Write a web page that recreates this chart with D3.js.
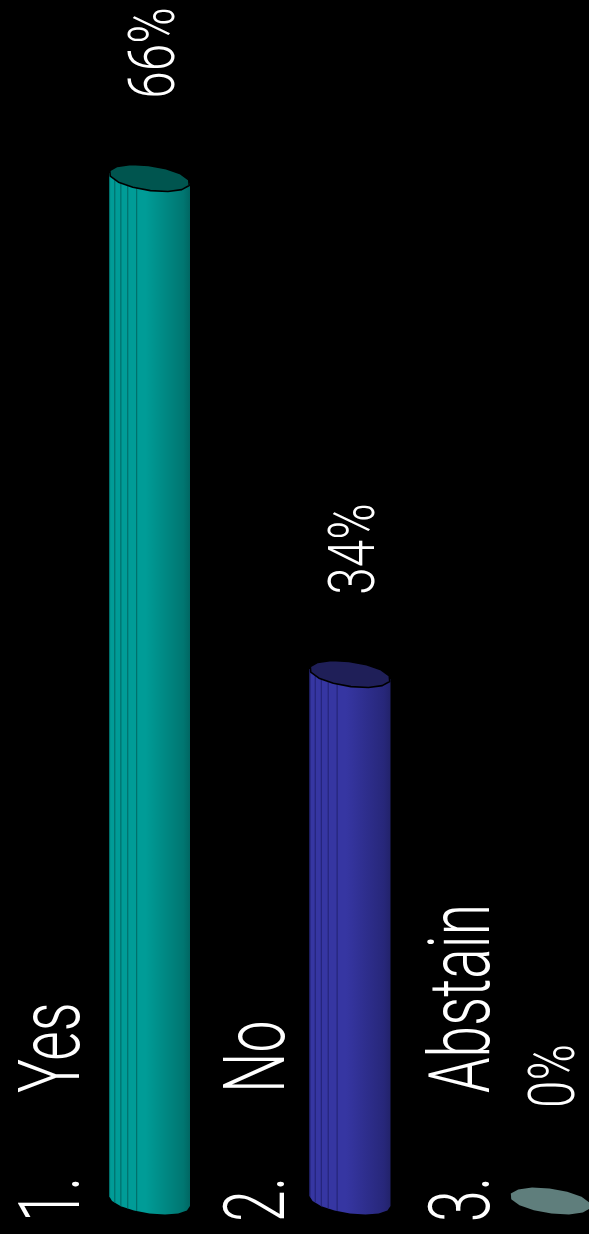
<!DOCTYPE html>
<html>
<head>
<meta charset="utf-8">
<script src="https://cdn.jsdelivr.net/npm/d3@7"></script>
<style>
  html, body { margin: 0; padding: 0; background: #000; }
  svg { display: block; }
  text { font-family: Roboto, "Liberation Sans", Arial, sans-serif; font-weight: 300; fill: #fff; }
</style>
</head>
<body>
<svg id="chart" width="589" height="1234"></svg>
<script>
// Poll results
const categories = ["Yes", "No", "Abstain"];
const itemNumbers = ["1.", "2.", "3."];
const percents = [66, 34, 0];

// Cylinder palettes: body left, body right, stripe, cap
const bodyLight = ["#009c97", "#3636a2", "#5f7e7c"];
const bodyDark = ["#007671", "#27277a", "#4c6664"];
const stripeColor = ["#006f6b", "#25257a", "#4c6664"];
const capColor = ["#00554f", "#1f1f58", "#5f7e7c"];

const W = 589, H = 1234;
const svg = d3.select("#chart");
svg.append("rect").attr("width", W).attr("height", H).attr("fill", "#000");

// Value axis runs upward from the base of the cylinders
const y = d3.scaleLinear().domain([0, 100]).range([1201, 1201 - 1550]);

// Columns for the cylinders
const x = d3.scaleBand()
  .domain(categories)
  .range([109, 591])
  .paddingInner(0.596)
  .paddingOuter(0);

// Baselines of the rotated category labels
const labelX = d3.scalePoint().domain(categories).range([79, 489]);

const rx = x.bandwidth() / 2;
const ry = 12.5;
const tilt = 0.125; // cap slants down to the right

// Faceted ellipse outline (cylinder cap)
function capPoints(cx, cy, n = 14) {
  const pts = [];
  for (let i = 0; i < n; i++) {
    const t = (i / n) * Math.PI * 2 + 0.2;
    const dx = rx * Math.cos(t);
    pts.push([cx + dx, cy + ry * Math.sin(t) + tilt * dx]);
  }
  return pts;
}

// Side of the cylinder: from the top cap edge down to the front half of the base
function bodyPath(cx, yTop, yBase, n = 16) {
  const pts = [];
  pts.push([cx - rx, yTop - tilt * rx]);
  for (let i = 0; i <= n / 2; i++) {
    const t = Math.PI - (i / (n / 2)) * Math.PI;
    const dx = rx * Math.cos(t);
    pts.push([cx + dx, yBase + ry * Math.sin(t) + tilt * dx]);
  }
  pts.push([cx + rx, yTop + tilt * rx]);
  return d3.line()(pts) + "Z";
}

const defs = svg.append("defs");
categories.forEach((c, i) => {
  const g = defs.append("linearGradient")
    .attr("id", "body" + i)
    .attr("x1", "0").attr("x2", "1").attr("y1", "0").attr("y2", "0");
  g.append("stop").attr("offset", "0").attr("stop-color", bodyLight[i]);
  g.append("stop").attr("offset", "0.45").attr("stop-color", bodyLight[i]);
  g.append("stop").attr("offset", "0.92").attr("stop-color", bodyDark[i]);
  g.append("stop").attr("offset", "1").attr("stop-color", d3.color(bodyDark[i]).darker(0.4));
});

const facetOffsets = [0.0, 0.065, 0.14, 0.225, 0.335];

const bars = svg.append("g").selectAll("g.bar")
  .data(categories.map((c, i) => ({ c, i, v: percents[i] })))
  .join("g").attr("class", "bar");

bars.each(function (d) {
  const g = d3.select(this);
  const cx = x(d.c) + rx;
  const yBase = y(0);
  const yTop = y(d.v);
  if (d.v > 0) {
    g.append("path")
      .attr("d", bodyPath(cx, yTop, yBase))
      .attr("fill", `url(#body${d.i})`);
    // facet edges on the lit side
    const clipId = "clip" + d.i;
    defs.append("clipPath").attr("id", clipId)
      .append("path").attr("d", bodyPath(cx, yTop, yBase));
    g.append("g").attr("clip-path", `url(#${clipId})`)
      .selectAll("line")
      .data(facetOffsets)
      .join("line")
      .attr("x1", f => x(d.c) + f * x.bandwidth() + 0.5)
      .attr("x2", f => x(d.c) + f * x.bandwidth() + 0.5)
      .attr("y1", yTop - 20)
      .attr("y2", yBase + 20)
      .attr("stroke", stripeColor[d.i])
      .attr("stroke-width", 1.2);
  }
  g.append("path")
    .attr("d", d3.line()(capPoints(cx, yTop)) + "Z")
    .attr("fill", capColor[d.i])
    .attr("stroke", d.v > 0 ? "#000" : "none")
    .attr("stroke-width", 1.6)
    .attr("stroke-linejoin", "round");
});

// Value labels, rotated to read upward, centred over each cylinder
svg.append("g").selectAll("text.value")
  .data(categories.map((c, i) => ({ c, v: percents[i] })))
  .join("text")
  .attr("class", "value")
  .attr("text-anchor", "middle")
  .attr("font-size", 65)
  .attr("transform", d => `translate(${x(d.c) + rx + 24},${y(d.v) - 125}) rotate(-90) scale(0.76,1)`)
  .text(d => d.v + "%");

// Item numbers
svg.append("g").selectAll("text.num")
  .data(categories.map((c, i) => ({ c, n: itemNumbers[i] })))
  .join("text")
  .attr("class", "num")
  .attr("font-size", 85)
  .attr("transform", d => `translate(${labelX(d.c)},1222) rotate(-90) scale(0.67,1)`)
  .text(d => d.n);

// Category names
svg.append("g").selectAll("text.cat")
  .data(categories)
  .join("text")
  .attr("class", "cat")
  .attr("font-size", 85)
  .attr("transform", c => `translate(${labelX(c)},1093) rotate(-90) scale(0.67,1)`)
  .text(c => c);
</script>
</body>
</html>
